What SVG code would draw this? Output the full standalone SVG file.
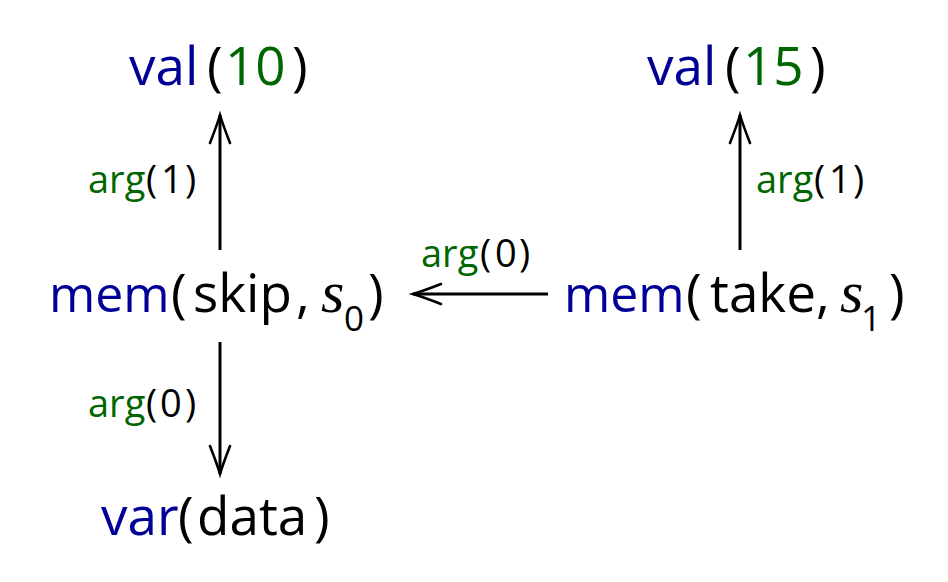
<svg xmlns="http://www.w3.org/2000/svg" width="948" height="582" viewBox="0 0 948 582">
  <style>
    .t { font-family: "Open Sans", "Noto Sans", "DejaVu Sans", sans-serif; fill: #000; }
    .big { font-size: 53px; }
    .lbl { font-size: 38px; }
    .kw { fill: #000096; }
    .m { font-size: 50px; }
    .num { fill: #006600; }
    .math { font-family: "Liberation Serif", "DejaVu Serif", serif; font-style: italic; font-size: 60px; }
    .sub { font-size: 35px; }
    .edge { stroke: #000; stroke-width: 3; fill: none; }
  </style>
  <defs>
    <marker id="to" markerUnits="userSpaceOnUse" markerWidth="40" markerHeight="40" orient="auto" overflow="visible" refX="0" refY="0">
      <path d="M -28 -10 Q -10 -3 0 0 Q -10 3 -28 10" stroke="#000" stroke-width="2.6" fill="none" stroke-linecap="round"/>
    </marker>
  </defs>

  <g id="connectors">
    <line class="edge" x1="220" y1="250" x2="220" y2="115" marker-end="url(#to)"/>
    <line class="edge" x1="740" y1="250" x2="740" y2="115" marker-end="url(#to)"/>
    <line class="edge" x1="548" y1="294" x2="413" y2="294" marker-end="url(#to)"/>
    <line class="edge" x1="220" y1="342" x2="220" y2="474" marker-end="url(#to)"/>
    <text class="t lbl" y="193"><tspan class="num" x="88">arg</tspan><tspan x="146">(</tspan><tspan x="161">1</tspan><tspan x="185">)</tspan></text>
    <text class="t lbl" y="193"><tspan class="num" x="756">arg</tspan><tspan x="814">(</tspan><tspan x="829">1</tspan><tspan x="853">)</tspan></text>
    <text class="t lbl" y="267"><tspan class="num" x="421">arg</tspan><tspan x="480">(</tspan><tspan x="495">0</tspan><tspan x="519">)</tspan></text>
    <text class="t lbl" y="417"><tspan class="num" x="88">arg</tspan><tspan x="146">(</tspan><tspan x="160">0</tspan><tspan x="185">)</tspan></text>
  </g>

  <g id="val10">
    <text class="t big" y="85"><tspan class="kw" x="129">val</tspan><tspan x="207">(</tspan><tspan class="num" x="225">10</tspan><tspan x="292">)</tspan></text>
  </g>
  <g id="val15">
    <text class="t big" y="85"><tspan class="kw" x="647">val</tspan><tspan x="725">(</tspan><tspan class="num" x="743">15</tspan><tspan x="810">)</tspan></text>
  </g>
  <g id="mem-skip">
    <text class="t big" y="312"><tspan class="kw m" x="49">mem</tspan><tspan x="171">(</tspan><tspan x="193">skip</tspan><tspan x="296">,</tspan><tspan class="math" x="321">s</tspan><tspan class="sub" x="344" y="331">0</tspan><tspan x="368" y="312">)</tspan></text>
  </g>
  <g id="mem-take">
    <text class="t big" y="312"><tspan class="kw m" x="564">mem</tspan><tspan x="686">(</tspan><tspan x="710">take</tspan><tspan x="816">,</tspan><tspan class="math" x="840">s</tspan><tspan class="sub" x="861" y="331">1</tspan><tspan x="889" y="312">)</tspan></text>
  </g>
  <g id="var-data">
    <text class="t big" y="535"><tspan class="kw" x="101">var</tspan><tspan x="178">(</tspan><tspan x="197">data</tspan><tspan x="314">)</tspan></text>
  </g>
</svg>
